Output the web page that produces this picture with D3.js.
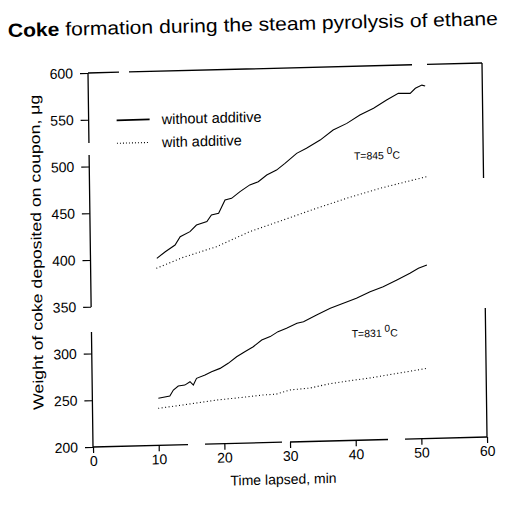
<!DOCTYPE html>
<html>
<head>
<meta charset="utf-8">
<script src="https://cdn.jsdelivr.net/npm/d3@7"></script>
<style>
  body { margin: 0; background: #fff; }
  text { font-family: "Liberation Sans", Arial, sans-serif; fill: #000; }
</style>
</head>
<body>
<div id="chart"></div>
<script>
// ---- data ----
var xTicks = [0, 10, 20, 30, 40, 50, 60];
var yTicks = [200, 250, 300, 350, 400, 450, 500, 550, 600];

// T = 845 C, without additive
var t845Without = [10.1, 11.4, 12.9, 13.7, 15.2, 16.2, 17.8, 18.5, 19.6, 20.6, 21.6, 22.9, 24.4, 25.7, 27.0, 28.5, 29.8, 31.6, 33.1, 35.2, 37.2, 39.3, 41.3, 43.4, 45.4, 47.2, 49.0, 49.8, 50.8, 51.3];
var v845Without = [400, 406.8, 413.7, 422.5, 427.6, 434.5, 437.9, 444.9, 446.5, 460.5, 462.1, 469, 476, 479.1, 486.1, 491.1, 498.1, 508.4, 513.6, 522, 532.4, 539.1, 547.7, 554.5, 563, 569.8, 569.5, 574.8, 578, 576.9];

// T = 845 C, with additive
var t845With = [10, 14.1, 19.2, 24.3, 29.4, 34, 39.1, 44.2, 51.3];
var v845With = [389.3, 400.3, 410.8, 426, 437.5, 448, 459, 468.8, 479.9];

// T = 831 C, without additive
var t831Without = [10.05, 11.8, 12.35, 13.1, 14.1, 14.9, 15.4, 15.9, 17.2, 18.2, 19.5, 20.75, 22.05, 23.3, 24.6, 25.9, 27.2, 28.4, 29.7, 31.3, 32.3, 34.3, 36.4, 38.4, 40.4, 42.5, 44.5, 46.6, 48.6, 49.9, 51.2];
var v831Without = [250.3, 252.4, 258.7, 262.9, 263.7, 267.2, 263.5, 270.6, 273.9, 277.3, 280.6, 285.8, 292.6, 297.8, 302.9, 309.8, 313.2, 318.3, 321.6, 326.7, 328.2, 335.1, 341.8, 346.8, 351.9, 358.5, 363.5, 370.3, 377.1, 382.2, 385.6];

// T = 831 C, with additive
var t831With = [10, 13.8, 18.9, 23, 26, 28, 30.1, 33.2, 36, 39.3, 42, 45, 48, 51];
var v831With = [239.6, 242.5, 246.8, 249.1, 251, 251.5, 255.6, 257.2, 261, 264, 266, 269, 272, 275];

var legendLabels = ["without additive", "with additive"];
var annotations = [{ text: "T=845 ", t: 40.3, v: 500 }, { text: "T=831 ", t: 39.6, v: 310 }];

// ---- drawing ----
var svg = d3.select("#chart").append("svg")
    .attr("width", 516)
    .attr("height", 506);

var W = 394, H = 374;
var x = d3.scaleLinear().domain([0, 60]).range([0, W]);
var y = d3.scaleLinear().domain([200, 600]).range([H, 0]);

// title, tilted like the scan
svg.append("text")
    .attr("x", 8).attr("y", 37)
    .attr("transform", "rotate(-1.4, 8, 37)")
    .attr("font-size", 19)
    .attr("textLength", 490)
    .attr("lengthAdjust", "spacingAndGlyphs")
    .call(function(t) {
        t.append("tspan").attr("font-weight", "bold").text("Coke");
        t.append("tspan").text(" formation during the steam pyrolysis of ethane");
    });

// the scanned plot is slightly skewed
var g = svg.append("g").attr("transform", "matrix(1,-0.0254,0.0134,1,88,73)");

// frame with the scan's broken segments
var frame = [
    { x1: 0, y1: 0, x2: 0, y2: H, dash: "70,12,152,25,115" },
    { x1: 0, y1: H, x2: W, y2: H, dash: "95,17,77,8,98,17,82" },
    { x1: 0, y1: 0, x2: W, y2: 0, dash: "31,10,283,15,55" },
    { x1: W, y1: 0, x2: W, y2: H, dash: "115,130,129" }
];
g.selectAll(".frame").data(frame).enter().append("line")
    .attr("class", "frame")
    .attr("x1", function(d) { return d.x1; })
    .attr("y1", function(d) { return d.y1; })
    .attr("x2", function(d) { return d.x2; })
    .attr("y2", function(d) { return d.y2; })
    .attr("stroke", "#000")
    .attr("stroke-width", 1.3)
    .attr("stroke-dasharray", function(d) { return d.dash; });

var yAxis = g.append("g")
    .call(d3.axisLeft(y).tickValues(yTicks).tickSize(8).tickPadding(7));
var xAxis = g.append("g")
    .attr("transform", "translate(0," + H + ")")
    .call(d3.axisBottom(x).tickValues(xTicks).tickSize(6).tickPadding(3));

[yAxis, xAxis].forEach(function(a) {
    a.select(".domain").remove();
    a.attr("font-family", null).attr("font-size", 14);
    a.selectAll("line").attr("stroke-width", 1.2);
});

// axis titles
g.append("text")
    .attr("x", 190).attr("y", 416)
    .attr("text-anchor", "middle")
    .attr("font-size", 14)
    .text("Time lapsed, min");

g.append("text")
    .attr("transform", "translate(-54,178) rotate(-90)")
    .attr("text-anchor", "middle")
    .attr("dy", "0.35em")
    .attr("font-size", 14.5)
    .attr("textLength", 315)
    .attr("lengthAdjust", "spacingAndGlyphs")
    .text("Weight of coke deposited on coupon, \u03bcg");

// curves
var line = d3.line()
    .x(function(d) { return x(d[0]); })
    .y(function(d) { return y(d[1]); });

var series = [
    { pts: d3.zip(t845Without, v845Without), dash: null },
    { pts: d3.zip(t845With, v845With), dash: "1,2.5" },
    { pts: d3.zip(t831Without, v831Without), dash: null },
    { pts: d3.zip(t831With, v831With), dash: "1,2.5" }
];
g.selectAll(".curve").data(series).enter().append("path")
    .attr("class", "curve")
    .attr("d", function(d) { return line(d.pts); })
    .attr("fill", "none")
    .attr("stroke", "#000")
    .attr("stroke-width", 1.1)
    .attr("stroke-dasharray", function(d) { return d.dash; });

// legend
var leg = g.selectAll(".leg").data(legendLabels).enter().append("g")
    .attr("class", "leg")
    .attr("transform", function(d, i) { return "translate(28," + (48 + i * 23) + ")"; });
leg.append("line")
    .attr("x1", 0).attr("x2", 33)
    .attr("stroke", "#000")
    .attr("stroke-width", function(d, i) { return i === 0 ? 1.8 : 1.1; })
    .attr("stroke-dasharray", function(d, i) { return i === 0 ? null : "1,2"; });
leg.append("text")
    .attr("x", 45).attr("dy", "0.35em")
    .attr("font-size", 14.5)
    .text(function(d) { return d; });

// temperature notes
var ann = g.selectAll(".ann").data(annotations).enter().append("text")
    .attr("class", "ann")
    .attr("x", function(d) { return x(d.t); })
    .attr("y", function(d) { return y(d.v); })
    .attr("font-size", 10.5);
ann.append("tspan").text(function(d) { return d.text; });
ann.append("tspan").attr("dy", -5).attr("font-size", 10).text("0");
ann.append("tspan").attr("dy", 5).text("C");
</script>
</body>
</html>
